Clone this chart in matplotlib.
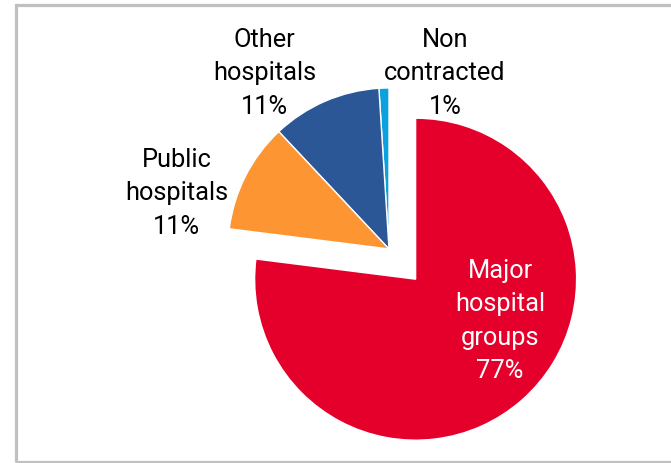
import matplotlib.pyplot as plt
from matplotlib.patches import Rectangle

# hospital spend shares, counter-clockwise from 12 o'clock
labels = ['Non\ncontracted', 'Other\nhospitals', 'Public\nhospitals', 'Major\nhospital\ngroups']
shares = [1, 11, 11, 77]
colors = ['#0AA2DE', '#2B5797', '#FD9533', '#E4002B']
explode = [0, 0, 0, 0.25]

plt.rcParams['font.family'] = ['Roboto', 'DejaVu Sans']

fig = plt.figure(figsize=(6.71, 4.64), dpi=100)
ax = fig.add_axes([0, 0, 1, 1])

ax.pie(shares, colors=colors, explode=explode, startangle=90, counterclock=True,
       radius=1.0, wedgeprops=dict(edgecolor='white', linewidth=1))

# 161 px per unit, pie centre at (389, 250) px
ax.set_xlim(-389 / 161, (671 - 389) / 161)
ax.set_ylim(-(464 - 250) / 161, 250 / 161)
ax.axis('off')

# label anchors (x, y) and text colour
spots = [(0.348, 1.097, 'black'), (-0.771, 1.097, 'black'),
         (-1.32, 0.352, 'black'), (0.69, -0.44, 'white')]
for lab, val, (x, y, c) in zip(labels, shares, spots):
    ax.text(x, y, '%s\n%d%%' % (lab, val), ha='center', va='center',
            multialignment='center', fontsize=18.3, color=c, linespacing=1.5)

# grey frame round the panel
fig.patches.append(Rectangle((15.5 / 671, 1.5 / 464), 700 / 671, 457 / 464,
                             transform=fig.transFigure, fill=False,
                             edgecolor='#C0C0C0', linewidth=2.3))

fig.savefig('out.png', dpi=100)
